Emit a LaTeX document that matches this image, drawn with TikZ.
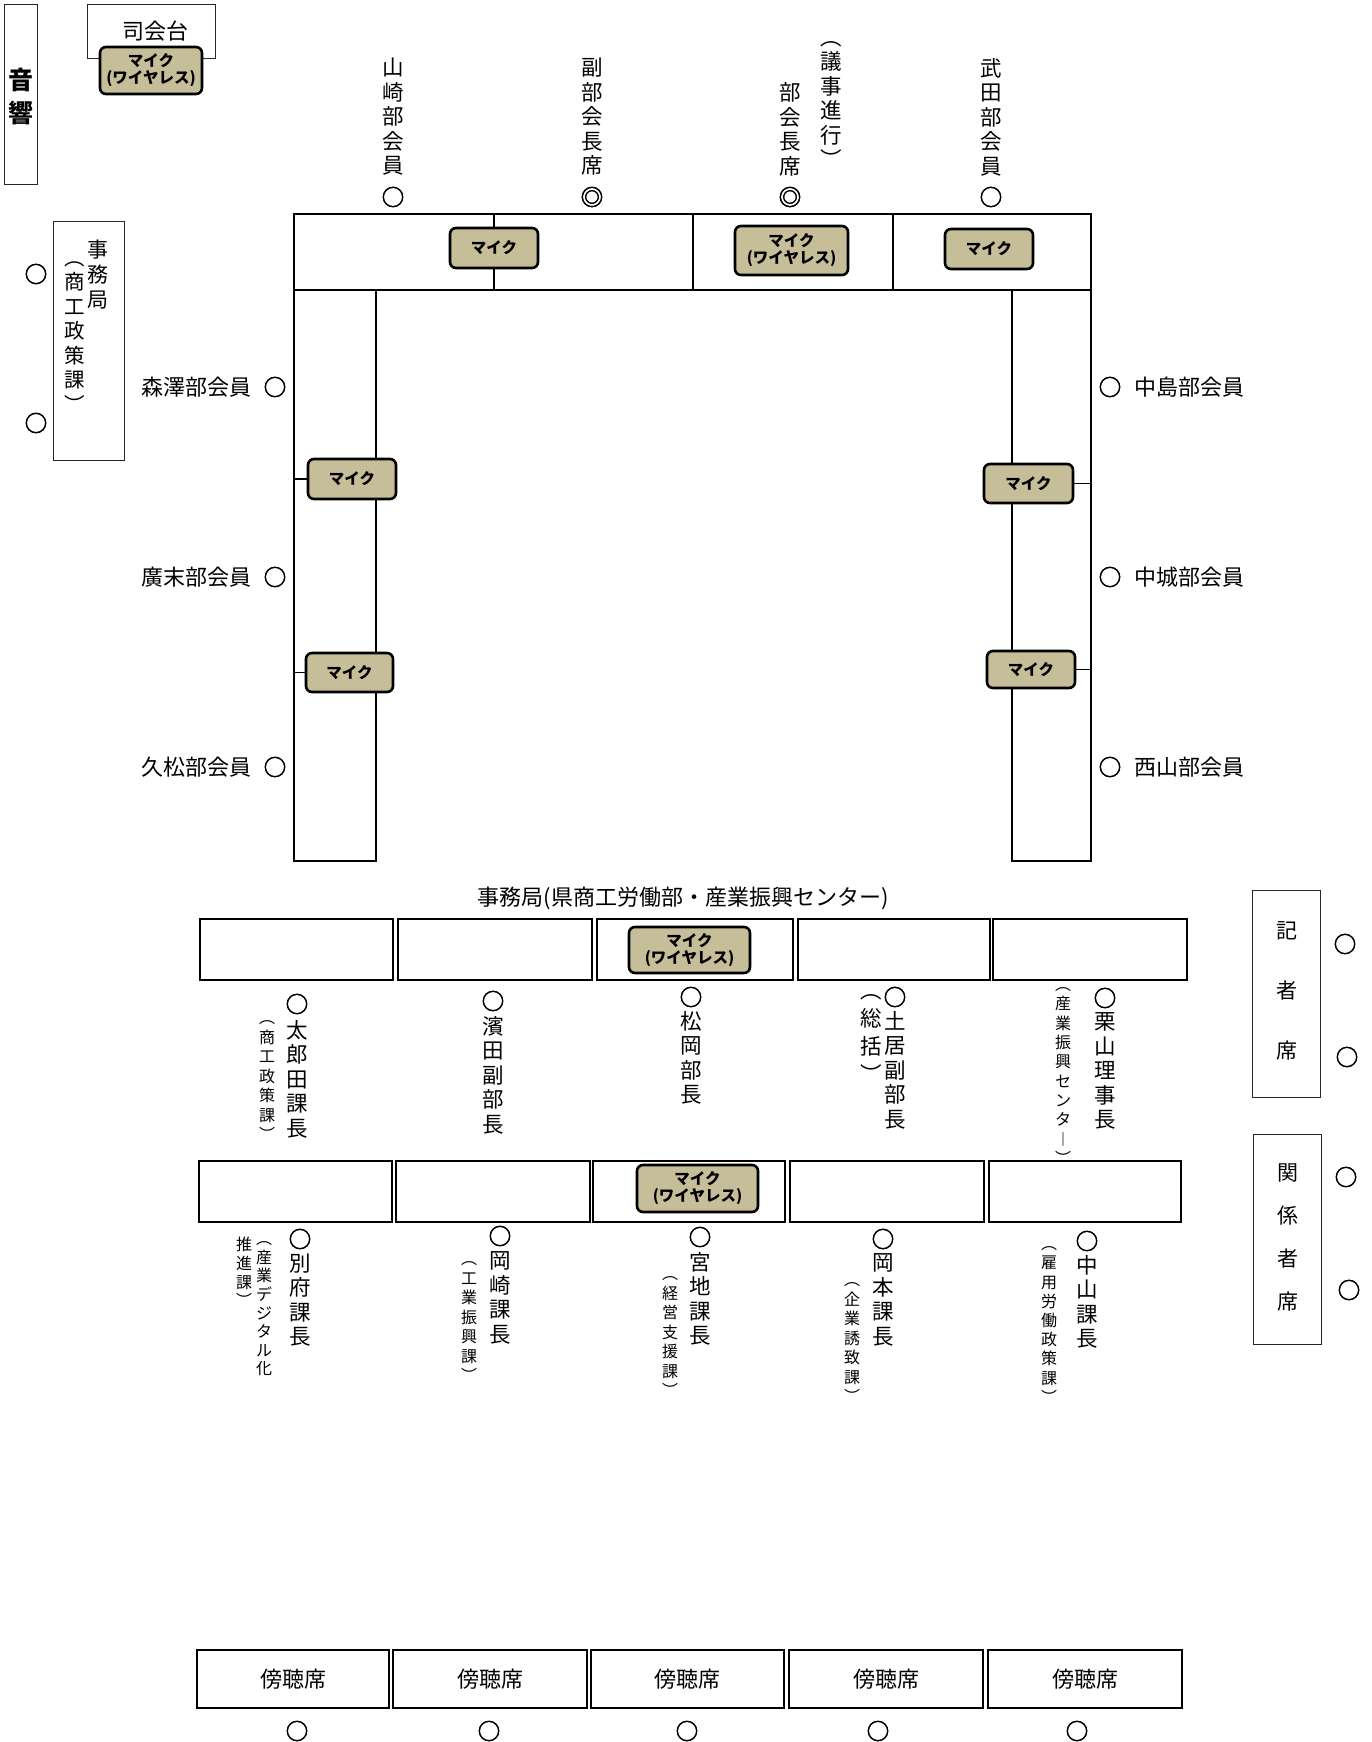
\documentclass[tikz,border=0pt]{standalone}
\usepackage{fontspec}
\setmainfont{Noto Sans CJK JP}
\newfontfamily\circfont[FakeBold=2.5]{Noto Sans CJK JP}
\definecolor{micfill}{RGB}{198,190,153}
\tikzset{
  every node/.style={inner sep=0pt, outer sep=0pt},
  mic/.style={draw=black, line width=2.6pt, fill=micfill, rounded corners=6pt, align=center, font=\fontsize{15.5}{17}\selectfont\bfseries},
  tbl/.style={draw=black, line width=1.2pt},
  desk/.style={draw=black, line width=1.2pt},
  thinbox/.style={draw=black!85, line width=1pt},
  vt/.style={align=center, font=\fontsize{21.5}{24.5}\selectfont},
  vs/.style={align=center, font=\fontsize{16}{19.5}\selectfont},
  ht/.style={font=\fontsize{22}{24}\selectfont},
  seat/.style={font=\fontsize{22.5}{24}\circfont},
}
\begin{document}
\begin{tikzpicture}[x=1pt,y=-1pt]
\useasboundingbox (0,0) rectangle (1371,1742);

% ---- 音響 / 司会台
\node[thinbox, minimum width=33, minimum height=179] (onkyo) at (20.5,94.5) {};
\node[align=center, font=\fontsize{25}{33}\selectfont\bfseries] (onkyo-t) at (21,96.5) {音\\響};
\node[thinbox, minimum width=128, minimum height=54] (shikai) at (151,32) {};
\node[ht] (shikai-t) at (155,31) {司会台};
\node[mic, minimum width=102, minimum height=47] (m0) at (151,70.5) {マイク\\(ワイヤレス)};

% ---- U-shaped table
\node[tbl, minimum width=797, minimum height=76] (topbar) at (692.5,252) {};
\node[tbl, minimum width=82, minimum height=571] (legL) at (335,575.5) {};
\node[tbl, minimum width=79, minimum height=571] (legR) at (1051.5,575.5) {};
\draw[line width=1.2pt] (494,214) -- (494,290);
\draw[line width=1.2pt] (693,214) -- (693,290);
\draw[line width=1.2pt] (893,214) -- (893,290);

\node[mic, minimum width=88, minimum height=40] (m1) at (494,248) {マイク};
\node[mic, minimum width=113, minimum height=49] (m2) at (791.5,250.5) {マイク\\(ワイヤレス)};
\node[mic, minimum width=88, minimum height=40] (m3) at (989,249) {マイク};
\node[mic, minimum width=88, minimum height=40] (m4) at (352,479) {マイク};
\node[mic, minimum width=87, minimum height=39] (m5) at (349.5,672.5) {マイク};
\node[mic, minimum width=89, minimum height=39] (m6) at (1028.5,483.5) {マイク};
\node[mic, minimum width=88, minimum height=37] (m7) at (1031,669.5) {マイク};
\draw[line width=1.1pt] (m4.west) -- (m4.west -| legL.west);
\draw[line width=1.1pt] (m5.west) -- (m5.west -| legL.west);
\draw[line width=1.1pt] (m6.east) -- (m6.east -| legR.east);
\draw[line width=1.1pt] (m7.east) -- (m7.east -| legR.east);

% ---- top seats
\node[vt] (yamazaki) at (393,117) {山\\崎\\部\\会\\員};
\node[seat] (yamazaki-o) at (393,197) {○};
\node[vt] (fuku) at (592,117) {副\\部\\会\\長\\席};
\node[seat] (fuku-o) at (592,197) {◎};
\node[vt] (bukai) at (790,129.5) {部\\会\\長\\席};
\node[vt] (giji) at (831,104.5) {︵\\議\\事\\進\\行\\︶};
\node[seat] (bukai-o) at (790,197) {◎};
\node[vt] (takeda) at (991,117) {武\\田\\部\\会\\員};
\node[seat] (takeda-o) at (991,197) {○};

% ---- left secretariat
\node[thinbox, minimum width=71, minimum height=239] (jimu) at (88.5,340.5) {};
\node[align=center, font=\fontsize{21}{25}\selectfont] (jimu-t1) at (98,275) {事\\務\\局};
\node[align=center, font=\fontsize{20.5}{24.5}\selectfont] (jimu-t2) at (75,337) {︵\\商\\工\\政\\策\\課\\︶};
\node[seat] (jimu-o1) at (36,274) {○};
\node[seat] (jimu-o2) at (36,423) {○};

% ---- left members
\node[ht, anchor=east] (morisawa) at (251,387) {森澤部会員};
\node[seat] (morisawa-o) at (275,387) {○};
\node[ht, anchor=east] (hirosue) at (251,577) {廣末部会員};
\node[seat] (hirosue-o) at (275,577) {○};
\node[ht, anchor=east] (hisamatsu) at (251,767) {久松部会員};
\node[seat] (hisamatsu-o) at (275,767) {○};

% ---- right members
\node[seat] (nakajima-o) at (1110,387) {○};
\node[ht, anchor=west] (nakajima) at (1134,387) {中島部会員};
\node[seat] (nakagusuku-o) at (1110,577) {○};
\node[ht, anchor=west] (nakagusuku) at (1134,577) {中城部会員};
\node[seat] (nishiyama-o) at (1110,767) {○};
\node[ht, anchor=west] (nishiyama) at (1134,767) {西山部会員};

% ---- secretariat rows
\node[ht] (jimukyoku) at (683,898) {事務局(県商工労働部・産業振興センター)};

\node[desk, minimum width=193, minimum height=61] (d11) at (296.5,949.5) {};
\node[desk, minimum width=194, minimum height=61] (d12) at (495,949.5) {};
\node[desk, minimum width=196, minimum height=61] (d13) at (695,949.5) {};
\node[desk, minimum width=192, minimum height=61] (d14) at (894,949.5) {};
\node[desk, minimum width=194, minimum height=61] (d15) at (1090,949.5) {};
\node[mic, minimum width=121, minimum height=46] (m8) at (689.5,950) {マイク\\(ワイヤレス)};

\node[seat] (tarota-o) at (297,1004) {○};
\node[vt] (tarota) at (297,1079) {太\\郎\\田\\課\\長};
\node[vs] (tarota-s) at (267,1081) {︵\\商\\工\\政\\策\\課\\︶};
\node[seat] (hamada-o) at (493,1001) {○};
\node[vt] (hamada) at (493,1075) {濱\\田\\副\\部\\長};
\node[seat] (matsuoka-o) at (691,997) {○};
\node[vt] (matsuoka) at (691,1058) {松\\岡\\部\\長};
\node[seat] (doi-o) at (895,997) {○};
\node[vt] (doi) at (895,1070) {土\\居\\副\\部\\長};
\node[align=center, font=\fontsize{21.5}{28}\selectfont] (doi-s) at (871,1038) {︵\\総\\括\\︶};
\node[seat] (kuriyama-o) at (1105,998) {○};
\node[vt] (kuriyama) at (1105,1071) {栗\\山\\理\\事\\長};
\node[align=center, font=\fontsize{16}{19.3}\selectfont] (kuriyama-s) at (1063,1076) {︵\\産\\業\\振\\興\\セ\\ン\\タ\\︱\\︶};

\node[desk, minimum width=193, minimum height=61] (d21) at (295.5,1191.5) {};
\node[desk, minimum width=194, minimum height=61] (d22) at (493,1191.5) {};
\node[desk, minimum width=192, minimum height=61] (d23) at (689,1191.5) {};
\node[desk, minimum width=194, minimum height=61] (d24) at (887,1191.5) {};
\node[desk, minimum width=192, minimum height=61] (d25) at (1085,1191.5) {};
\node[mic, minimum width=121, minimum height=47] (m9) at (697.5,1188.5) {マイク\\(ワイヤレス)};

\node[seat] (beppu-o) at (300,1239) {○};
\node[vt] (beppu) at (300,1300) {別\\府\\課\\長};
\node[align=center, font=\fontsize{16}{18.6}\selectfont] (beppu-s1) at (264,1309) {︵\\産\\業\\デ\\ジ\\タ\\ル\\化};
\node[align=center, font=\fontsize{16}{18.6}\selectfont] (beppu-s2) at (244,1272) {推\\進\\課\\︶};
\node[seat] (okazaki-o) at (500,1236) {○};
\node[vt] (okazaki) at (500,1298) {岡\\崎\\課\\長};
\node[vs] (okazaki-s) at (469,1322) {︵\\工\\業\\振\\興\\課\\︶};
\node[seat] (miyachi-o) at (700,1237) {○};
\node[vt] (miyachi) at (700,1299) {宮\\地\\課\\長};
\node[vs] (miyachi-s) at (670,1337) {︵\\経\\営\\支\\援\\課\\︶};
\node[seat] (okamoto-o) at (883,1239) {○};
\node[vt] (okamoto) at (883,1300) {岡\\本\\課\\長};
\node[vs] (okamoto-s) at (852,1343) {︵\\企\\業\\誘\\致\\課\\︶};
\node[seat] (nakayama-o) at (1087,1241) {○};
\node[vt] (nakayama) at (1087,1302) {中\\山\\課\\長};
\node[align=center, font=\fontsize{16}{19.2}\selectfont] (nakayama-s) at (1049,1325) {︵\\雇\\用\\労\\働\\政\\策\\課\\︶};

% ---- press / related seats
\node[thinbox, minimum width=68, minimum height=207] (kisha) at (1286,993.5) {};
\node[align=center, font=\fontsize{21}{60}\selectfont] (kisha-t) at (1287,991) {記\\者\\席};
\node[seat] (kisha-o1) at (1345,944) {○};
\node[seat] (kisha-o2) at (1347,1057) {○};
\node[thinbox, minimum width=68, minimum height=210] (kankei) at (1287,1239) {};
\node[align=center, font=\fontsize{21}{43}\selectfont] (kankei-t) at (1288,1237) {関\\係\\者\\席};
\node[seat] (kankei-o1) at (1346,1177) {○};
\node[seat] (kankei-o2) at (1349,1290) {○};

% ---- public gallery
\node[desk, minimum width=192, minimum height=58] (a1) at (293,1679) {};
\node[desk, minimum width=194, minimum height=58] (a2) at (490,1679) {};
\node[desk, minimum width=193, minimum height=58] (a3) at (687.5,1679) {};
\node[desk, minimum width=194, minimum height=58] (a4) at (886,1679) {};
\node[desk, minimum width=194, minimum height=58] (a5) at (1085,1679) {};
\node[ht] (a1-t) at (a1) {傍聴席};
\node[ht] (a2-t) at (a2) {傍聴席};
\node[ht] (a3-t) at (a3) {傍聴席};
\node[ht] (a4-t) at (a4) {傍聴席};
\node[ht] (a5-t) at (a5) {傍聴席};
\node[seat] (a1-o) at (297,1731) {○};
\node[seat] (a2-o) at (489,1731) {○};
\node[seat] (a3-o) at (687,1731) {○};
\node[seat] (a4-o) at (878,1731) {○};
\node[seat] (a5-o) at (1077,1731) {○};
\end{tikzpicture}
\end{document}
